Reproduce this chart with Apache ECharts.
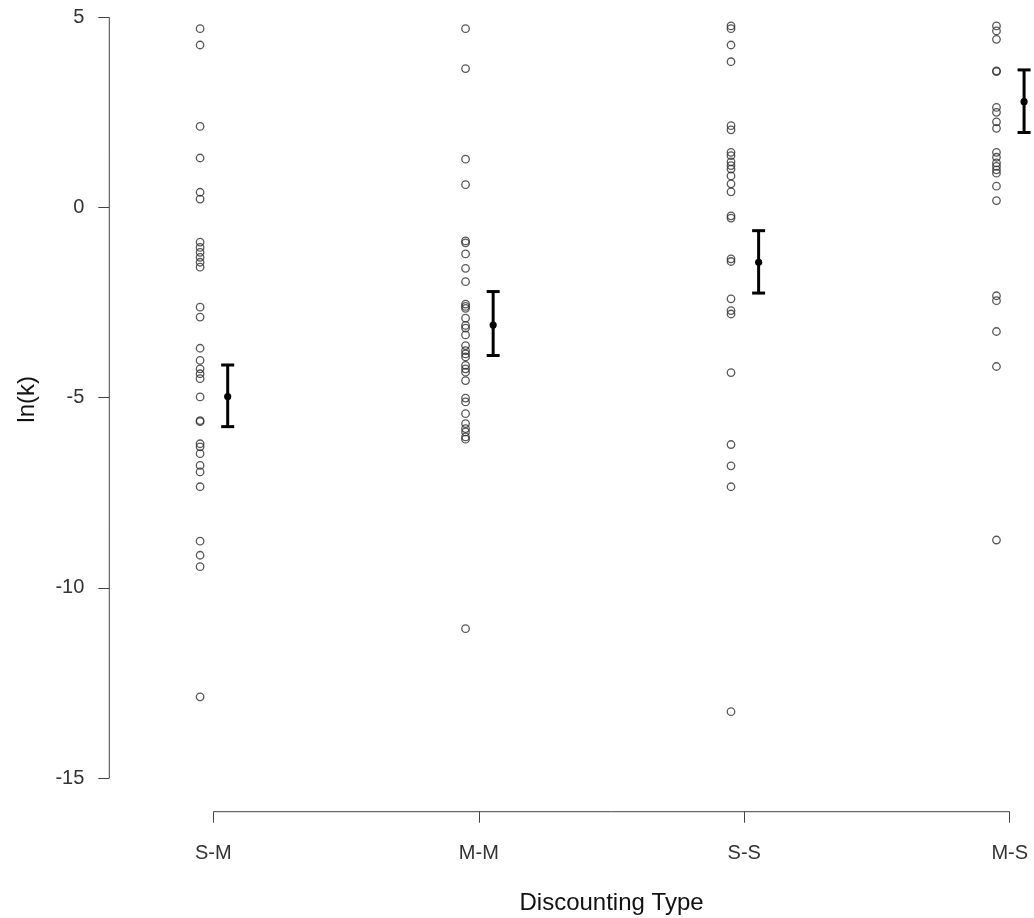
<!DOCTYPE html>
<html>
<head>
<meta charset="utf-8">
<script src="https://cdn.jsdelivr.net/npm/echarts@6/dist/echarts.min.js"></script>
<style>
html,body{margin:0;padding:0;background:#fff;}
#chart{width:1034px;height:918px;}
</style>
</head>
<body>
<div id="chart"></div>
<script>
// ---- data ----
const categories = ['S-M', 'M-M', 'S-S', 'M-S'];
const yTickValues = [-15, -10, -5, 0, 5];

const smValues = [4.70, 4.27, 2.13, 1.30, 0.40, 0.22, -0.91, -1.05, -1.18, -1.31, -1.44, -1.57,
  -2.62, -2.88, -3.70, -4.02, -4.24, -4.37, -4.50, -4.98, -5.60, -5.63, -6.21, -6.29, -6.47,
  -6.78, -6.95, -7.34, -8.77, -9.14, -9.44, -12.86];
const mmValues = [4.70, 3.65, 1.27, 0.60, -0.88, -0.93, -1.22, -1.60, -1.95, -2.54, -2.60, -2.65,
  -2.91, -3.10, -3.17, -3.35, -3.63, -3.76, -3.85, -3.93, -4.15, -4.24, -4.33, -4.55, -5.01,
  -5.11, -5.42, -5.68, -5.81, -5.90, -6.03, -6.09, -11.07];
const ssValues = [4.77, 4.70, 4.27, 3.83, 2.15, 2.04, 1.45, 1.36, 1.20, 1.10, 1.01, 0.83, 0.62,
  0.41, -0.22, -0.28, -1.35, -1.42, -2.40, -2.71, -2.80, -4.34, -6.23, -6.79, -7.34, -13.25];
const msValues = [4.77, 4.64, 4.42, 3.59, 3.57, 2.63, 2.50, 2.25, 2.08, 1.45, 1.32, 1.17, 1.08,
  0.99, 0.90, 0.56, 0.18, -2.32, -2.45, -3.26, -4.18, -8.74];

const meanValues  = [-4.97, -3.09, -1.44, 2.78];
const upperValues = [-4.14, -2.21, -0.61, 3.615];
const lowerValues = [-5.76, -3.89, -2.25, 1.97];

// ---- layout constants ----
const X_MIN = 0.608, X_MAX = 4.392;
const Y_MIN = -15.88, Y_MAX = 5.794;
const POINT_OFFSET = -0.05;
const MEAN_OFFSET = 0.054;

const groups = [smValues, mmValues, ssValues, msValues];
const pointSeries = groups.map((vals, i) => ({
  type: 'scatter',
  name: categories[i],
  data: vals.map(v => [i + 1 + POINT_OFFSET, v]),
  symbol: 'circle',
  symbolSize: 7.5,
  itemStyle: { color: 'rgba(0,0,0,0)', borderColor: '#2e2e2e', borderWidth: 1.3 },
  emphasis: { disabled: true },
  silent: true,
  z: 3
}));

const errorData = categories.map((c, i) => [i + 1 + MEAN_OFFSET, meanValues[i], lowerValues[i], upperValues[i]]);

function renderErrorBar(params, api) {
  const x = api.value(0);
  const pM = api.coord([x, api.value(1)]);
  const pLo = api.coord([x, api.value(2)]);
  const pHi = api.coord([x, api.value(3)]);
  const hw = 6.5;
  const st = { stroke: '#000', lineWidth: 3 };
  return {
    type: 'group',
    children: [
      { type: 'line', shape: { x1: pHi[0], y1: pHi[1], x2: pLo[0], y2: pLo[1] }, style: st },
      { type: 'line', shape: { x1: pHi[0] - hw, y1: pHi[1], x2: pHi[0] + hw, y2: pHi[1] }, style: st },
      { type: 'line', shape: { x1: pLo[0] - hw, y1: pLo[1], x2: pLo[0] + hw, y2: pLo[1] }, style: st },
      { type: 'circle', shape: { cx: pM[0], cy: pM[1], r: 3.6 }, style: { fill: '#000' } }
    ]
  };
}

const axisLineStyle = { color: '#444', width: 1 };

const option = {
  animation: false,
  backgroundColor: '#fff',
  grid: {
    left: 109.3, right: -79.8, top: -13, bottom: 106.3,
    containLabel: false, outerBoundsMode: 'none'
  },
  xAxis: {
    type: 'value', min: X_MIN, max: X_MAX,
    axisLine: { show: false, onZero: false },
    splitLine: { show: false },
    axisTick: { show: true, customValues: [1, 2, 3, 4], length: 11, lineStyle: axisLineStyle },
    axisLabel: {
      customValues: [1, 2, 3, 4],
      formatter: v => categories[Math.round(v) - 1] || '',
      fontFamily: 'Liberation Sans, Arial, sans-serif', fontSize: 20, color: '#333', margin: 32
    },
    name: 'Discounting Type', nameLocation: 'middle', nameGap: 80,
    nameTextStyle: { fontFamily: 'Liberation Sans, Arial, sans-serif', fontSize: 24, color: '#111' }
  },
  yAxis: {
    type: 'value', min: Y_MIN, max: Y_MAX,
    axisLine: { show: false, onZero: false },
    splitLine: { show: false },
    axisTick: { show: true, customValues: yTickValues, length: 11, lineStyle: axisLineStyle },
    axisLabel: {
      customValues: yTickValues,
      fontFamily: 'Liberation Sans, Arial, sans-serif', fontSize: 20, color: '#333', margin: 25,
      padding: [4, 0, 0, 0]
    },
    name: 'ln(k)', nameLocation: 'middle', nameGap: 70, nameRotate: 90,
    nameTextStyle: { fontFamily: 'Liberation Sans, Arial, sans-serif', fontSize: 24, color: '#111' }
  },
  series: [
    // axis lines (R-style, spanning only the tick range)
    {
      type: 'line', silent: true, clip: false, symbol: 'none',
      data: [[X_MIN, yTickValues[0]], [X_MIN, yTickValues[yTickValues.length - 1]]],
      lineStyle: axisLineStyle, z: 1
    },
    {
      type: 'line', silent: true, clip: false, symbol: 'none',
      data: [[1, Y_MIN], [categories.length, Y_MIN]],
      lineStyle: axisLineStyle, z: 1
    },
    ...pointSeries,
    {
      type: 'custom', renderItem: renderErrorBar, data: errorData, silent: true, z: 4
    }
  ]
};

const chart = echarts.init(document.getElementById('chart'), null, { renderer: 'canvas' });
chart.setOption(option);
</script>
</body>
</html>
